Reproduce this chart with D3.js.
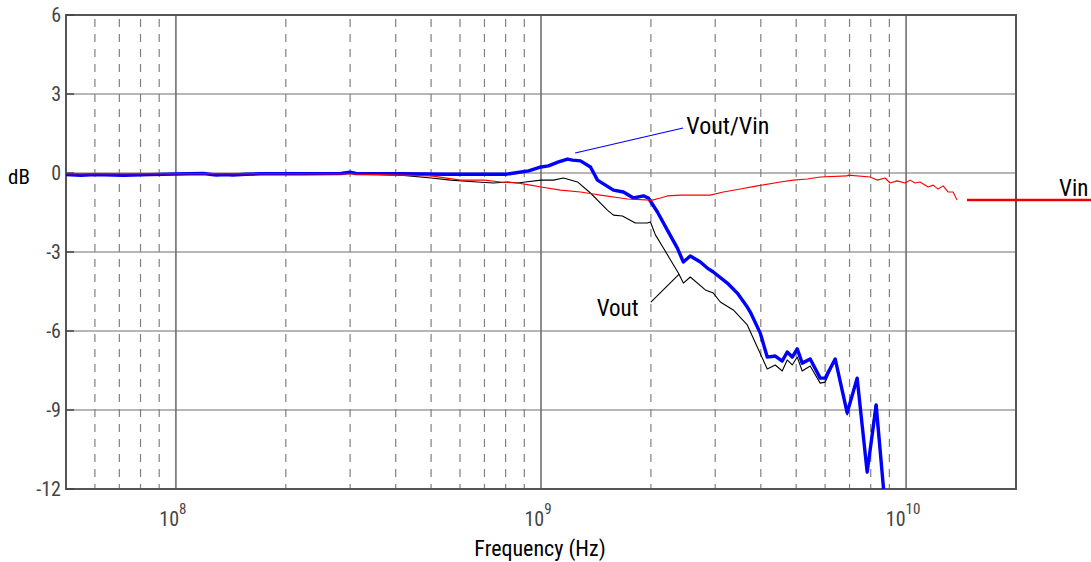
<!DOCTYPE html>
<html>
<head>
<meta charset="utf-8">
<script src="https://cdn.jsdelivr.net/npm/d3@7/dist/d3.min.js"></script>
<style>
  html, body { margin: 0; padding: 0; background: #fff; }
  svg { display: block; }
  .lbl { font-family: "Liberation Sans Narrow", "Roboto Condensed", "DejaVu Sans Condensed", sans-serif; }
</style>
</head>
<body>
<svg id="chart" width="1091" height="562"></svg>
<script>
// Frequencies in MHz, levels in dB
const voutVinFreq = [50, 55, 60, 72, 85, 100, 119, 129, 137, 143, 155, 171, 220, 283, 300, 311, 413, 548, 696, 800, 863, 925, 1000, 1048, 1117, 1182, 1220, 1283, 1366, 1428, 1579, 1682, 1791, 1908, 1969, 2084, 2219, 2363, 2454, 2564, 2732, 2855, 2965, 3238, 3449, 3673, 3743, 3986, 4166, 4382, 4579, 4725, 4877, 5033, 5194, 5462, 5818, 6004, 6394, 6896, 7344, 7823, 8280, 8700];
const voutVinDb   = [-0.06, -0.09, -0.06, -0.09, -0.06, -0.04, -0.02, -0.08, -0.06, -0.08, -0.05, -0.03, -0.03, -0.02, 0.03, -0.02, -0.03, -0.05, -0.05, -0.05, 0.02, 0.08, 0.23, 0.27, 0.42, 0.53, 0.49, 0.46, 0.23, -0.27, -0.65, -0.72, -0.95, -0.87, -0.95, -1.48, -2.17, -2.85, -3.38, -3.15, -3.38, -3.61, -3.76, -4.18, -4.56, -5.09, -5.28, -6.08, -6.99, -6.95, -7.14, -6.80, -6.99, -6.68, -7.22, -7.06, -7.79, -7.79, -7.06, -9.11, -7.79, -11.36, -8.81, -12.2];

const voutFreq = [50, 55, 60, 72, 85, 100, 119, 155, 220, 283, 300, 311, 413, 500, 566, 670, 741, 810, 863, 907, 1000, 1082, 1152, 1259, 1366, 1455, 1520, 1579, 1671, 1813, 1956, 1994, 2058, 2164, 2378, 2454, 2564, 2819, 2965, 3098, 3363, 3673, 3912, 4166, 4382, 4579, 4725, 4877, 5033, 5194, 5462, 5818, 6004, 6394, 6896, 7344, 7823, 8228, 8700];
const voutDb   = [-0.06, -0.09, -0.06, -0.09, -0.06, -0.04, -0.03, -0.05, -0.03, -0.03, 0.0, -0.03, -0.08, -0.19, -0.27, -0.34, -0.38, -0.34, -0.38, -0.34, -0.27, -0.27, -0.19, -0.34, -0.76, -1.14, -1.41, -1.60, -1.63, -1.90, -1.90, -1.86, -2.35, -2.85, -3.80, -4.18, -3.95, -4.44, -4.56, -4.90, -5.20, -5.77, -6.61, -7.44, -7.29, -7.52, -7.10, -7.29, -6.99, -7.52, -7.33, -7.98, -7.94, -7.06, -9.19, -7.86, -11.39, -8.81, -12.2];

const vinFreq = [50, 100, 200, 300, 413, 500, 602, 700, 775, 863, 936, 1000, 1131, 1283, 1392, 1455, 1650, 1725, 1994, 2019, 2123, 2219, 2408, 2909, 3157, 3515, 3912, 4522, 4907, 5360, 5818, 6896, 6940, 7972, 8332, 8761, 9041, 9449, 9938, 10250, 10580, 10920, 11490, 11860, 12240, 12630, 13030, 13450, 13790];
const vinDb   = [-0.03, -0.03, -0.03, -0.04, -0.08, -0.11, -0.27, -0.27, -0.34, -0.38, -0.46, -0.53, -0.65, -0.72, -0.80, -0.84, -0.95, -0.99, -1.03, -1.03, -0.95, -0.87, -0.84, -0.84, -0.72, -0.61, -0.49, -0.34, -0.27, -0.23, -0.15, -0.11, -0.08, -0.15, -0.27, -0.19, -0.38, -0.30, -0.38, -0.27, -0.38, -0.34, -0.53, -0.46, -0.61, -0.49, -0.72, -0.72, -1.03];

const yTicks = [-12, -9, -6, -3, 0, 3, 6];
const decadeExps = [8, 9, 10];

const svg = d3.select("#chart");
const plotLeft = 66, plotRight = 1016, plotTop = 15, plotBottom = 489;

const x = d3.scaleLog().domain([5e7, 2e10]).range([plotLeft, plotRight]);
const y = d3.scaleLinear().domain([-12, 6]).range([plotBottom, plotTop]);

const plot = svg.append("g");
svg.append("clipPath").attr("id", "plotclip")
  .append("rect").attr("x", plotLeft).attr("y", plotTop)
  .attr("width", plotRight - plotLeft).attr("height", plotBottom - plotTop);

// horizontal grid
plot.selectAll("line.hgrid").data(yTicks).join("line")
  .attr("x1", plotLeft).attr("x2", plotRight)
  .attr("y1", d => y(d)).attr("y2", d => y(d))
  .attr("stroke", "#6e6e6e").attr("stroke-width", 1.2);

// vertical grid: dashed minor lines, solid decades
const minor = [];
for (let e = 7; e <= 10; e++) {
  for (let m = 2; m <= 9; m++) {
    const f = m * Math.pow(10, e);
    if (f > 5e7 && f < 2e10) minor.push(f);
  }
}
plot.selectAll("line.vminor").data(minor).join("line")
  .attr("x1", d => x(d)).attr("x2", d => x(d))
  .attr("y1", plotTop).attr("y2", plotBottom)
  .attr("stroke", "#808080").attr("stroke-width", 1.2)
  .attr("stroke-dasharray", "8,7").attr("stroke-dashoffset", -4);
plot.selectAll("line.vmajor").data(decadeExps).join("line")
  .attr("x1", d => x(Math.pow(10, d))).attr("x2", d => x(Math.pow(10, d)))
  .attr("y1", plotTop).attr("y2", plotBottom)
  .attr("stroke", "#707070").attr("stroke-width", 1.6);

// frame
plot.append("rect").attr("x", plotLeft).attr("y", plotTop)
  .attr("width", plotRight - plotLeft).attr("height", plotBottom - plotTop)
  .attr("fill", "none").attr("stroke", "#555").attr("stroke-width", 2);

// inward tick marks on left axis
plot.selectAll("line.ytick").data(yTicks).join("line")
  .attr("x1", plotLeft).attr("x2", plotLeft + 8)
  .attr("y1", d => y(d)).attr("y2", d => y(d))
  .attr("stroke", "#444").attr("stroke-width", 1.5);

// series
const lineGen = d3.line().x(d => x(d[0] * 1e6)).y(d => y(d[1]));
const curves = svg.append("g").attr("clip-path", "url(#plotclip)");
const zip = (a, b) => a.map((v, i) => [v, b[i]]);

curves.append("path").datum(zip(voutFreq, voutDb))
  .attr("d", lineGen).attr("fill", "none").attr("stroke", "#000").attr("stroke-width", 1.1)
  .attr("stroke-linejoin", "round");
curves.append("path").datum(zip(voutVinFreq, voutVinDb))
  .attr("d", lineGen).attr("fill", "none").attr("stroke", "#0000ff").attr("stroke-width", 3.4)
  .attr("stroke-linejoin", "round");
curves.append("path").datum(zip(vinFreq, vinDb))
  .attr("d", lineGen).attr("fill", "none").attr("stroke", "#ff0000").attr("stroke-width", 1.1)
  .attr("stroke-linejoin", "round");

// tick labels
const lbl = svg.append("g").attr("class", "lbl");
lbl.selectAll("text.yl").data(yTicks).join("text")
  .attr("x", 61).attr("y", d => y(d)).attr("dy", "0.36em")
  .attr("text-anchor", "end").attr("font-size", 20).attr("fill", "#444")
  .text(d => d);

const xl = lbl.selectAll("text.xl").data(decadeExps).join("text")
  .attr("x", d => x(Math.pow(10, d)) - 3).attr("y", 526)
  .attr("text-anchor", "middle").attr("font-size", 20).attr("fill", "#444");
xl.append("tspan").text("10");
xl.append("tspan").attr("dy", -12).attr("font-size", 15).text(d => d);

// axis titles
lbl.append("text").attr("x", 8).attr("y", 184).attr("font-size", 21).attr("fill", "#000").text("dB");
lbl.append("text").attr("x", 540).attr("y", 556).attr("text-anchor", "middle")
  .attr("font-size", 22).attr("fill", "#000").text("Frequency (Hz)");

// annotations
const ann = svg.append("g").attr("class", "lbl");
ann.append("line")
  .attr("x1", x(1.24e9)).attr("y1", y(0.76)).attr("x2", x(2.45e9)).attr("y2", y(1.71))
  .attr("stroke", "#0000ff").attr("stroke-width", 1.2);
ann.append("text").attr("x", x(2.5e9)).attr("y", y(1.48)).attr("font-size", 24).attr("fill", "#000").text("Vout/Vin");

ann.append("line")
  .attr("x1", x(2.0e9)).attr("y1", y(-4.9)).attr("x2", x(2.39e9)).attr("y2", y(-3.84))
  .attr("stroke", "#000").attr("stroke-width", 1.1);
ann.append("text").attr("x", x(1.85e9)).attr("y", y(-5.43)).attr("text-anchor", "end")
  .attr("font-size", 23).attr("fill", "#000").text("Vout");

// Vin legend
ann.append("line").attr("x1", 967).attr("x2", 1091).attr("y1", 200).attr("y2", 200)
  .attr("stroke", "#ee0000").attr("stroke-width", 2.5);
ann.append("text").attr("x", 1059).attr("y", 196).attr("font-size", 23).attr("fill", "#000").text("Vin");
</script>
</body>
</html>
